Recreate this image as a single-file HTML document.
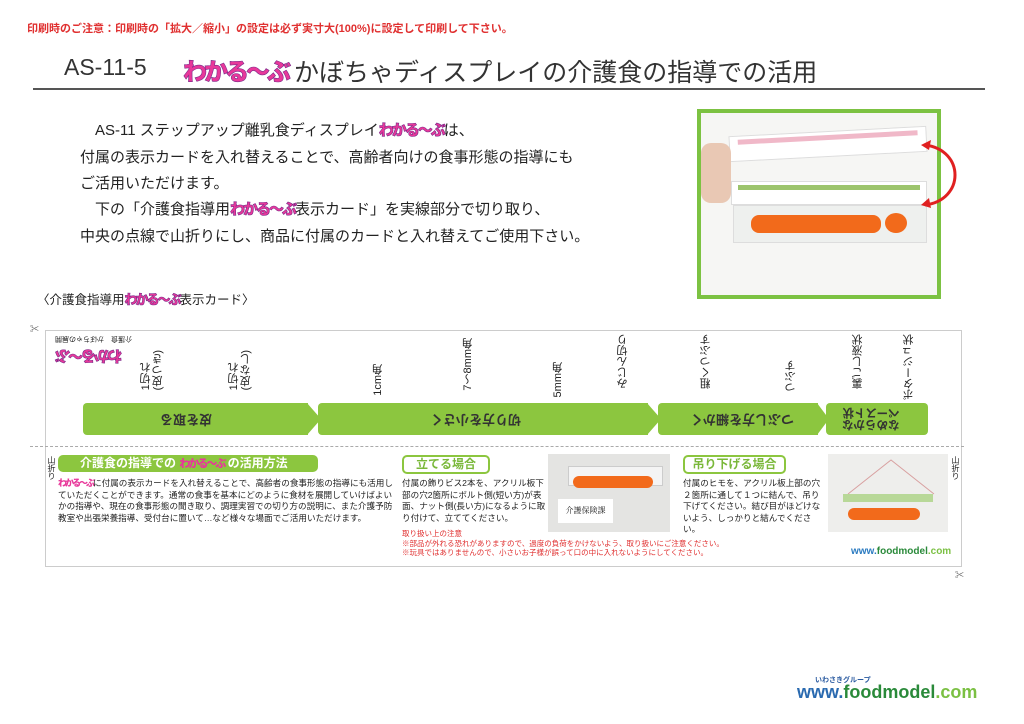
<!DOCTYPE html>
<html><head><meta charset="utf-8"><style>
*{margin:0;padding:0;box-sizing:border-box}
body{width:1024px;height:724px;background:#fff;position:relative;overflow:hidden;font-family:"Liberation Sans","Noto Sans CJK JP",sans-serif;color:#222}
.a{position:absolute;white-space:nowrap}
.logo{display:inline-block;font-weight:900;color:#e8389a;-webkit-text-stroke:0.6px #7a2a8a;letter-spacing:-2px}
.g{background:#8cc63f;color:#fff;font-weight:bold}
.v{writing-mode:vertical-rl;transform:rotate(180deg);font-size:11px;line-height:12px;position:absolute;white-space:nowrap}
.s{font-size:8.6px;line-height:11.6px}
.r{color:#e03030}
</style></head><body>
<div class="a r" style="left:27px;top:20px;font-size:11px;font-weight:bold">印刷時のご注意：印刷時の「拡大／縮小」の設定は必ず実寸大(100%)に設定して印刷して下さい。</div>
<div class="a" style="left:64px;top:54px;font-size:23px;color:#333">AS-11-5</div>
<div class="a logo" style="left:183px;top:52px;font-size:24px;letter-spacing:-3px">わかる～ぶ</div>
<div class="a" style="left:294px;top:53px;font-size:25px;color:#333">かぼちゃディスプレイの介護食の指導での活用</div>
<div class="a" style="left:33px;top:88px;width:952px;height:2px;background:#555"></div>

<div class="a" style="left:95px;top:119px;font-size:15px">AS-11 ステップアップ離乳食ディスプレイ<span class="logo" style="font-size:15px">わかる～ぶ</span>は、</div>
<div class="a" style="left:80px;top:146px;font-size:15px">付属の表示カードを入れ替えることで、高齢者向けの食事形態の指導にも</div>
<div class="a" style="left:80px;top:172px;font-size:15px">ご活用いただけます。</div>
<div class="a" style="left:95px;top:198px;font-size:15px">下の「介護食指導用<span class="logo" style="font-size:15px">わかる～ぶ</span>表示カード」を実線部分で切り取り、</div>
<div class="a" style="left:80px;top:225px;font-size:15px">中央の点線で山折りにし、商品に付属のカードと入れ替えてご使用下さい。</div>

<div class="a" style="left:697px;top:109px;width:244px;height:190px;border:4px solid #7cc242;background:#f6f6f4">
 <div class="a" style="left:28px;top:18px;width:198px;height:26px;background:#fff;border:1px solid #ddd;transform:rotate(-3deg)"><div style="margin:3px 8px;height:5px;background:#f0b8c8"></div></div>
 <div class="a" style="left:30px;top:68px;width:196px;height:24px;background:#fff;border:1px solid #ddd"><div style="margin:3px 6px;height:5px;background:#9cc46c"></div></div>
 <div class="a" style="left:32px;top:92px;width:194px;height:38px;background:#eef0ee;border:1px solid #ddd"></div>
 <div class="a" style="left:50px;top:102px;width:130px;height:18px;border-radius:8px;background:#f26a1b"></div>
 <div class="a" style="left:184px;top:100px;width:22px;height:20px;border-radius:50%;background:#f26a1b"></div>
 <div class="a" style="left:0;top:30px;width:30px;height:60px;background:#e9c8b4;border-radius:10px"></div>
</div>
<svg class="a" style="left:915px;top:135px" width="60" height="80"><path d="M10 10 C50 15 50 65 10 70" fill="none" stroke="#e02020" stroke-width="3"/><path d="M6 10 l10 -5 l-2 10z M6 70 l8 -7 l2 10z" fill="#e02020"/></svg>

<div class="a" style="left:37px;top:289px;font-size:12.5px">〈介護食指導用<span class="logo" style="font-size:13px">わかる～ぶ</span>表示カード〉</div>

<div class="a" style="left:45px;top:330px;width:917px;height:237px;border:1px solid #ccc"></div>
<div class="a" style="left:30px;top:446px;width:934px;border-top:1px dashed #aaa"></div>
<div class="a" style="left:30px;top:322px;font-size:9px;color:#555">✂</div>
<div class="a" style="left:955px;top:568px;font-size:9px;color:#555">✂</div>

<div class="a g" style="left:83px;top:403px;width:225px;height:32px;border-radius:4px 0 0 4px"></div>
<svg class="a" style="left:307px;top:403px" width="14" height="32"><path d="M0 0 L14 16 L0 32z" fill="#8cc63f"/></svg>
<div class="a g" style="left:318px;top:403px;width:330px;height:32px;border-radius:4px 0 0 4px"></div>
<svg class="a" style="left:647px;top:403px" width="14" height="32"><path d="M0 0 L14 16 L0 32z" fill="#8cc63f"/></svg>
<div class="a g" style="left:658px;top:403px;width:160px;height:32px;border-radius:4px 0 0 4px"></div>
<svg class="a" style="left:817px;top:403px" width="12" height="32"><path d="M0 0 L12 16 L0 32z" fill="#8cc63f"/></svg>
<div class="a g" style="left:826px;top:403px;width:102px;height:32px;border-radius:4px"></div>
<div class="a" style="left:160px;top:411px;font-size:13px;font-weight:bold;color:#333;transform:rotate(180deg)">皮を取る</div>
<div class="a" style="left:430px;top:411px;font-size:13px;font-weight:bold;color:#333;transform:rotate(180deg)">切り方を小さく</div>
<div class="a" style="left:690px;top:411px;font-size:13px;font-weight:bold;color:#333;transform:rotate(180deg)">つぶし方を細かく</div>
<div class="a" style="left:842px;top:406px;font-size:11.5px;line-height:12px;font-weight:bold;color:#333;transform:rotate(180deg)">なめらかな<br>ペースト状</div>
<div class="a" style="left:55px;top:334px;font-size:7px;transform:rotate(180deg)">介護食　かぼちゃの展開</div>
<div class="a logo" style="left:57px;top:346px;font-size:15px;transform:rotate(180deg)">わかる～ぶ</div>
<div class="v" style="left:140px;top:350px">1切れ<br>(皮つき)</div>
<div class="v" style="left:228px;top:350px">1切れ<br>(皮なし)</div>
<div class="v" style="left:372px;top:364px">1cm角</div>
<div class="v" style="left:462px;top:338px">7〜8mm角</div>
<div class="v" style="left:552px;top:362px">5mm角</div>
<div class="v" style="left:617px;top:334px">みじん切り</div>
<div class="v" style="left:700px;top:334px">粗くつぶす</div>
<div class="v" style="left:785px;top:360px">つぶす</div>
<div class="v" style="left:852px;top:334px">裏ごし液状</div>
<div class="v" style="left:903px;top:334px">ポタージュ状</div>

<div class="a" style="left:46px;top:456px;font-size:8px;writing-mode:vertical-rl">山折り</div>
<div class="a" style="left:950px;top:456px;font-size:8px;writing-mode:vertical-rl">山折り</div>
<div class="a g" style="left:58px;top:455px;width:260px;height:17px;border-radius:5px;font-size:12px;line-height:17px;padding-left:22px">介護食の指導での <span class="logo" style="font-size:11px;-webkit-text-stroke:0">わかる～ぶ</span> の活用方法</div>
<div class="a s" style="left:58px;top:478px;white-space:normal;width:335px"><span class="logo" style="font-size:9px;-webkit-text-stroke:0">わかる～ぶ</span>に付属の表示カードを入れ替えることで、高齢者の食事形態の指導にも活用していただくことができます。通常の食事を基本にどのように食材を展開していけばよいかの指導や、現在の食事形態の聞き取り、調理実習での切り方の説明に、また介護予防教室や出張栄養指導、受付台に置いて…など様々な場面でご活用いただけます。</div>

<div class="a" style="left:402px;top:455px;width:88px;height:19px;border:2px solid #8cc63f;border-radius:5px;color:#7ab83a;font-weight:bold;font-size:12px;text-align:center;line-height:15px">立てる場合</div>
<div class="a s" style="left:402px;top:478px;white-space:normal;width:145px">付属の飾りビス2本を、アクリル板下部の穴2箇所にボルト側(短い方)が表面、ナット側(長い方)になるように取り付けて、立ててください。</div>
<div class="a" style="left:548px;top:454px;width:122px;height:78px;background:#e4e4e2"><div class="a" style="left:20px;top:12px;width:95px;height:20px;background:#f4f4f4;border:1px solid #ccc"></div><div class="a" style="left:25px;top:22px;width:80px;height:12px;background:#f26a1b;border-radius:6px"></div><div class="a" style="left:10px;top:45px;width:55px;height:24px;background:#fff;font-size:8px;line-height:24px;text-align:center;font-family:'Noto Serif CJK SC',serif">介護保険課</div></div>
<div class="a" style="left:683px;top:455px;width:103px;height:19px;border:2px solid #8cc63f;border-radius:5px;color:#7ab83a;font-weight:bold;font-size:12px;text-align:center;line-height:15px">吊り下げる場合</div>
<div class="a s" style="left:683px;top:478px;white-space:normal;width:142px">付属のヒモを、アクリル板上部の穴２箇所に通して１つに結んで、吊り下げてください。結び目がほどけないよう、しっかりと結んでください。</div>
<div class="a" style="left:828px;top:454px;width:120px;height:78px;background:#eeeeec"><svg class="a" width="120" height="78"><path d="M20 40 L63 6 L106 40" fill="none" stroke="#d8a0a0"/></svg><div class="a" style="left:15px;top:40px;width:90px;height:8px;background:#b8d898"></div><div class="a" style="left:20px;top:54px;width:72px;height:12px;background:#f26a1b;border-radius:6px"></div></div>
<div class="a r s" style="left:402px;top:529px;font-size:7.5px;line-height:9.5px">取り扱い上の注意<br>※部品が外れる恐れがありますので、過度の負荷をかけないよう、取り扱いにご注意ください。<br>※玩具ではありませんので、小さいお子様が誤って口の中に入れないようにしてください。</div>
<div class="a" style="left:851px;top:546px;font-size:10px;font-weight:bold;color:#2a7ac0">www.<span style="color:#2a8a3a">foodmodel</span><span style="color:#7bc043">.com</span></div>

<div class="a" style="left:815px;top:675px;font-size:7px;color:#2a5aa0;font-weight:bold">いわさきグループ</div>
<div class="a" style="left:797px;top:682px;font-size:18px;font-weight:bold;color:#2a6ab0">www.<span style="color:#2a8a3a">foodmodel</span><span style="color:#7bc043">.com</span></div>
</body></html>
